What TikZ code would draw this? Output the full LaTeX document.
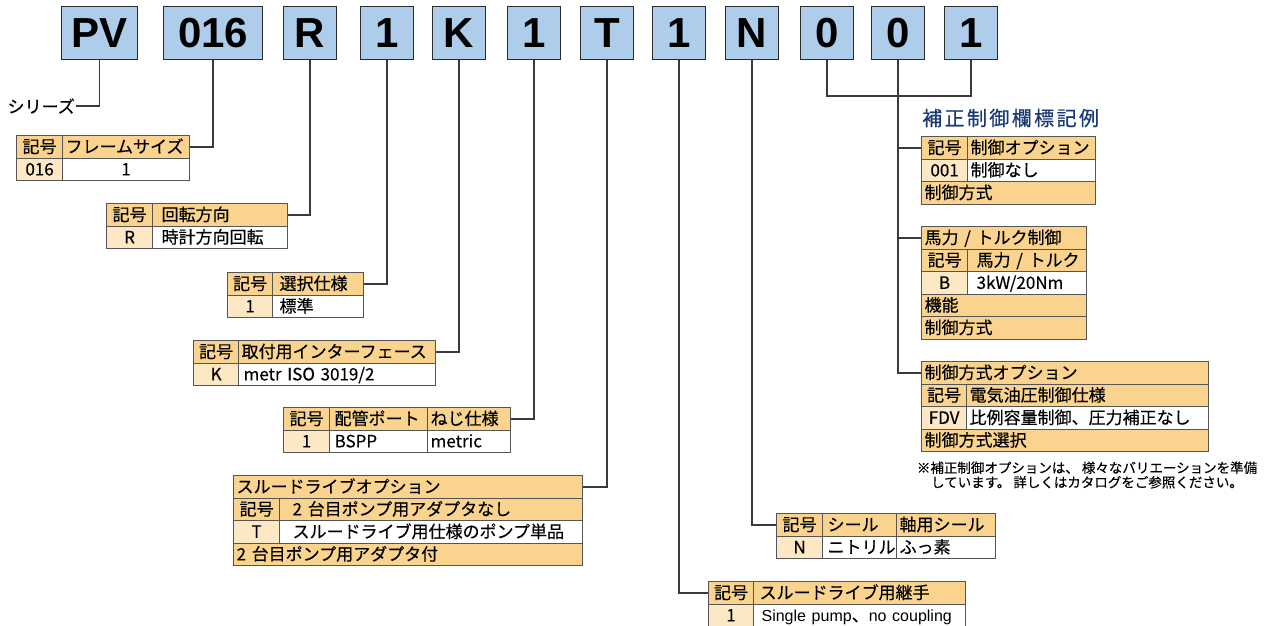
\documentclass[tikz,border=0pt]{standalone}
\usepackage{fontspec}
\newfontfamily\jpfont{Noto Sans CJK JP}[FakeBold=0.3]
\newfontfamily\jpwide{Noto Sans CJK JP}[LetterSpace=12, FakeBold=0.6]
\newfontfamily\codefont{Liberation Sans}
\definecolor{CodeBlue}{HTML}{ADCDEB}
\definecolor{CodeLine}{HTML}{2B2B2B}
\definecolor{HeadClr}{HTML}{FAD48E}
\definecolor{KeyClr}{HTML}{FDE8C6}
\definecolor{TabLine}{HTML}{555555}
\definecolor{ConnClr}{HTML}{3A3A3A}
\definecolor{TitleClr}{HTML}{1B3A73}

\tikzset{
  code/.style={draw=CodeLine, fill=CodeBlue, line width=1.1pt, anchor=north west,
    minimum width=53pt, minimum height=53pt, inner sep=0pt,
    font=\codefont\bfseries\fontsize{42}{42}\selectfont},
  cell/.style={draw=TabLine, line width=1.2pt, anchor=north west, minimum height=22.5pt,
    inner ysep=0pt, inner xsep=3pt, text height=14pt, text depth=2pt,
    font=\jpfont\fontsize{17}{20}\selectfont},
  hd/.style={cell, fill=HeadClr},
  kv/.style={cell, fill=KeyClr},
  dv/.style={cell, fill=white},
  cw/.style={minimum width=#1pt},
  lft/.style={text width=#1pt, align=left},
  conn/.style={draw=ConnClr, line width=1.5pt},
}

\begin{document}
\begin{tikzpicture}[x=1pt,y=-1pt]
\useasboundingbox (0,0) rectangle (1275,625);

% code boxes
\node[code, minimum width=76pt] (bSer) at (61,6) {PV};
\node[code, minimum width=99pt] (bSize) at (163,6) {016};
\node[code] (bRot) at (283,6) {R};
\node[code] (bSel) at (360,6) {1};
\node[code] (bMnt) at (432,6) {K};
\node[code] (bPort) at (507,6) {1};
\node[code] (bThru) at (580,6) {T};
\node[code] (bCpl) at (652,6) {1};
\node[code] (bSeal) at (725,6) {N};
\node[code] (bCa) at (800,6) {0};
\node[code] (bCb) at (871,6) {0};
\node[code] (bCc) at (944,6) {1};

\node[anchor=east, inner sep=1pt, font=\jpfont\fontsize{17}{20}\selectfont] (ser) at (76,106) {シリーズ};

% frame size
\node[hd, cw=46] (fsK) at (16,135) {記号};
\node[hd, lft=121] (fsH) at (62,135) {フレームサイズ};
\node[kv, cw=46] (fsKv) at (16,157.5) {016};
\node[dv, cw=127] (fsV) at (62,157.5) {1};

% rotation
\node[hd, cw=46] (rtK) at (106,203) {記号};
\node[hd, lft=129] (rtH) at (152,203) {\hspace*{6pt}回転方向};
\node[kv, cw=46] (rtKv) at (106,225.5) {R};
\node[dv, lft=129] (rtV) at (152,225.5) {\hspace*{6pt}時計方向回転};

% selection
\node[hd, cw=45] (slK) at (227,272) {記号};
\node[hd, lft=85] (slH) at (272,272) {\hspace*{4pt}選択仕様};
\node[kv, cw=45] (slKv) at (227,294.5) {1};
\node[dv, lft=85] (slV) at (272,294.5) {\hspace*{4pt}標準};

% mounting
\node[hd, cw=45] (mtK) at (193,340) {記号};
\node[hd, lft=191] (mtH) at (238,340) {取付用インターフェース};
\node[kv, cw=45] (mtKv) at (193,362.5) {K};
\node[dv, lft=191] (mtV) at (238,362.5) {\hspace*{2pt}metr ISO 3019/2};

% port
\node[hd, cw=46] (ptK) at (283,407) {記号};
\node[hd, lft=92] (ptH) at (329,407) {\hspace*{2pt}配管ポート};
\node[hd, lft=77] (ptS) at (427,407) {ねじ仕様};
\node[kv, cw=46] (ptKv) at (283,429.5) {1};
\node[dv, lft=92] (ptV) at (329,429.5) {\hspace*{2pt}BSPP};
\node[dv, lft=77] (ptSv) at (427,429.5) {metric};

% through drive
\node[hd, lft=343] (thT) at (233,475) {スルードライブオプション};
\node[hd, cw=46] (thK) at (233,497.5) {記号};
\node[hd, lft=297] (thA) at (279,497.5) {\hspace*{10pt}2 台目ポンプ用アダプタなし};
\node[kv, cw=46] (thKv) at (233,520) {T};
\node[dv, lft=297] (thV) at (279,520) {\hspace*{10pt}スルードライブ用仕様のポンプ単品};
\node[hd, lft=343] (thB) at (233,542.5) {2 台目ポンプ用アダプタ付};

% seal
\node[hd, cw=46] (sealK) at (776,513) {記号};
\node[hd, lft=68] (sealA) at (822,513) {\hspace*{2pt}シール};
\node[hd, lft=93] (sealB) at (896,513) {軸用シール};
\node[kv, cw=46] (sealKv) at (776,535.5) {N};
\node[dv, lft=68] (sealAv) at (822,535.5) {\hspace*{2pt}ニトリル};
\node[dv, lft=93] (sealBv) at (896,535.5) {ふっ素};

% coupling
\node[hd, cw=45] (cpK) at (708,581) {記号};
\node[hd, lft=206] (cpH) at (753,581) {\hspace*{3pt}スルードライブ用継手};
\node[kv, cw=45] (cpKv) at (708,603.5) {1};
\node[dv, lft=206] (cpV) at (753,603.5) {\hspace*{5pt}\mbox{{\codefont\fontsize{16}{20}\selectfont Single pump}、{\codefont\fontsize{16}{20}\selectfont no coupling}}};

% control example
\node[anchor=west, inner sep=0pt, text=TitleClr, font=\jpwide\fontsize{20}{22}\selectfont] (ttl) at (922,118) {補正制御欄標記例};

\node[hd, cw=46] (r1K) at (921,136) {記号};
\node[hd, lft=122] (r1H) at (967,136) {制御オプション};
\node[kv, cw=46] (r1Kv) at (921,158.5) {001};
\node[dv, lft=122] (r1V) at (967,158.5) {制御なし};
\node[hd, lft=168] (r1F) at (921,181) {制御方式};

\node[hd, lft=159] (r2T) at (921,226) {馬力 / トルク制御};
\node[hd, cw=46] (r2K) at (921,248.5) {記号};
\node[hd, lft=113] (r2H) at (967,248.5) {\hspace*{6pt}馬力 / トルク};
\node[kv, cw=46] (r2Kv) at (921,271) {B};
\node[dv, lft=113] (r2V) at (967,271) {\hspace*{6pt}3kW/20Nm};
\node[hd, lft=159] (r2F) at (921,293.5) {機能};
\node[hd, lft=159] (r2C) at (921,316) {制御方式};

\node[hd, lft=281] (r3T) at (921,361) {制御方式オプション};
\node[hd, cw=45] (r3K) at (921,383.5) {記号};
\node[hd, lft=236] (r3H) at (966,383.5) {電気油圧制御仕様};
\node[kv, cw=45] (r3Kv) at (921,406) {FDV};
\node[dv, lft=236] (r3V) at (966,406) {比例容量制御、圧力補正なし};
\node[hd, lft=281] (r3F) at (921,428.5) {制御方式選択};

\node[align=center, inner sep=0pt, font=\jpfont\fontsize{13.5}{14.5}\selectfont] (note) at (1087,475)
  {※補正制御オプションは、 様々なバリエーションを準備\\しています。 詳しくはカタログをご参照ください。};

% connectors
\coordinate (brk) at (897,96);
\draw[conn] (bSer.south) |- (ser.east);
\draw[conn] (bSize.south) |- (fsH.east);
\draw[conn] (bRot.south) |- (rtH.east);
\draw[conn] (bSel.south) |- (slH.east);
\draw[conn] (bMnt.south) |- (mtH.east);
\draw[conn] (bPort.south) |- (ptS.east);
\draw[conn] (bThru.south) |- (thT.east);
\draw[conn] (bCpl.south) |- (cpK.west);
\draw[conn] (bSeal.south) |- (sealK.west);
\draw[conn] (bCa.south) |- (brk) -| (bCc.south);
\draw[conn] (bCb.south) |- (r1K.west);
\draw[conn] (bCb.south) |- (r2T.west);
\draw[conn] (bCb.south) |- (r3T.west);

\end{tikzpicture}
\end{document}
